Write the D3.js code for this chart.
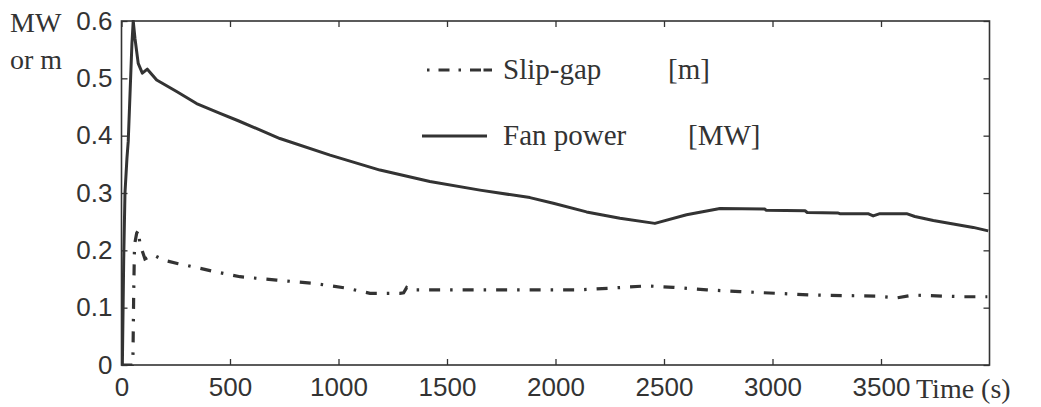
<!DOCTYPE html>
<html>
<head>
<meta charset="utf-8">
<script src="https://cdn.jsdelivr.net/npm/d3@7"></script>
<style>
  html, body { margin: 0; padding: 0; background: #fff; }
  svg { display: block; }
  .serif { font-family: "Liberation Serif", "DejaVu Serif", "Times New Roman", serif; }
  .sans { font-family: "Liberation Sans", Arial, sans-serif; }
</style>
</head>
<body>
<svg id="chart" width="1041" height="407"></svg>
<script>
// ---- data ----
const fanTime  = [0, 4, 10, 16, 25, 31, 40, 48, 54, 62, 77, 96, 119, 162, 254, 346, 454, 538, 730, 961, 1191, 1421, 1652, 1882, 1990, 2143, 2297, 2458, 2604, 2758, 2965, 2970, 3150, 3160, 3303, 3310, 3440, 3464, 3495, 3618, 3656, 3741, 3833, 3925, 3994];
const fanPower = [0, 0, 0.18, 0.30, 0.36, 0.39, 0.48, 0.56, 0.600, 0.57, 0.526, 0.509, 0.516, 0.497, 0.477, 0.456, 0.439, 0.426, 0.395, 0.366, 0.340, 0.320, 0.305, 0.292, 0.282, 0.267, 0.256, 0.247, 0.262, 0.273, 0.272, 0.270, 0.269, 0.266, 0.265, 0.264, 0.264, 0.260, 0.264, 0.264, 0.259, 0.252, 0.246, 0.240, 0.234];

const slipTime = [0, 50, 53, 56, 60, 70, 78, 86, 95, 108, 125, 147, 193, 270, 346, 416, 492, 546, 715, 884, 1038, 1145, 1283, 1300, 1314, 1330, 1483, 1667, 1900, 2100, 2251, 2420, 2543, 2697, 2850, 3019, 3188, 3342, 3480, 3572, 3649, 3879, 3990];
const slipGap  = [0, 0, 0.02, 0.12, 0.21, 0.23, 0.235, 0.207, 0.200, 0.185, 0.188, 0.192, 0.183, 0.176, 0.170, 0.164, 0.158, 0.154, 0.148, 0.1425, 0.134, 0.125, 0.125, 0.126, 0.135, 0.131, 0.131, 0.131, 0.131, 0.131, 0.134, 0.138, 0.1355, 0.131, 0.128, 0.125, 0.122, 0.121, 0.120, 0.117, 0.122, 0.119, 0.119];

const xTickValues = [0, 500, 1000, 1500, 2000, 2500, 3000, 3500];
const yTickValues = [0, 0.1, 0.2, 0.3, 0.4, 0.5, 0.6];
const xDomain = [0, 4000];
const yDomain = [0, 0.6];

const legendNames = ["Slip-gap", "Fan power"];
const legendUnits = ["[m]", "[MW]"];

// ---- layout ----
const L = 121.5, R = 989.5, T = 21, B = 365;
const ink = "#333";
const svg = d3.select("#chart");

const x = d3.scaleLinear().domain(xDomain).range([L, R]);
const y = d3.scaleLinear().domain(yDomain).range([B, T]);

svg.append("defs").append("clipPath").attr("id", "clip")
  .append("rect").attr("x", L).attr("y", T - 1).attr("width", R - L).attr("height", B - T + 2);

const tickLen = 6;
const gx = svg.append("g").attr("transform", `translate(0,${B})`)
  .call(d3.axisBottom(x).tickValues(xTickValues).tickSizeInner(-tickLen).tickSizeOuter(0).tickPadding(13).tickFormat(d3.format("d")));
const gxTop = svg.append("g").attr("transform", `translate(0,${T})`)
  .call(d3.axisTop(x).tickValues(xTickValues).tickSizeInner(-tickLen).tickSizeOuter(0).tickFormat(""));
const gy = svg.append("g").attr("transform", `translate(${L},0)`)
  .call(d3.axisLeft(y).tickValues(yTickValues).tickSizeInner(-tickLen).tickSizeOuter(0).tickPadding(9).tickFormat(d => d === 0 ? "0" : d3.format(".1f")(d)));
const gyR = svg.append("g").attr("transform", `translate(${R},0)`)
  .call(d3.axisRight(y).tickValues(yTickValues).tickSizeInner(-tickLen).tickSizeOuter(0).tickFormat(""));

[gx, gxTop, gy, gyR].forEach(g => {
  g.attr("font-family", null).attr("font-size", null);
  g.select(".domain").remove();
  g.selectAll(".tick line").attr("stroke", ink).attr("stroke-width", 1.3);
  g.selectAll(".tick text").attr("fill", ink).attr("class", "sans").style("font-size", "26px");
});
gx.selectAll(".tick text").attr("dy", "0.71em");

svg.append("rect").attr("x", L).attr("y", T).attr("width", R - L).attr("height", B - T)
  .attr("fill", "none").attr("stroke", ink).attr("stroke-width", 1.6);

const fanData = fanTime.map((t, i) => [t, fanPower[i]]);
const slipData = slipTime.map((t, i) => [t, slipGap[i]]);
const line = d3.line().x(d => x(d[0])).y(d => y(d[1]));

const plot = svg.append("g").attr("clip-path", "url(#clip)");
plot.append("path").datum(slipData).attr("d", line)
  .attr("fill", "none").attr("stroke", ink).attr("stroke-width", 3.2)
  .attr("stroke-dasharray", "11,10,2.5,10");
plot.append("path").datum(fanData).attr("d", line)
  .attr("fill", "none").attr("stroke", ink).attr("stroke-width", 3).attr("stroke-linejoin", "round");

// legend
const legY = [70, 136];
const leg = svg.append("g");
leg.append("line").attr("x1", 427).attr("x2", 492).attr("y1", legY[0]).attr("y2", legY[0])
  .attr("stroke", ink).attr("stroke-width", 3).attr("stroke-dasharray", "2.5,9,11,9,2.5,9,11");
leg.append("line").attr("x1", 422).attr("x2", 487).attr("y1", legY[1]).attr("y2", legY[1])
  .attr("stroke", ink).attr("stroke-width", 3);
const serifText = (tx, ty, s, size) => svg.append("text").attr("x", tx).attr("y", ty).text(s)
  .attr("class", "serif").style("font-size", size + "px").attr("fill", ink);
legendNames.forEach((n, i) => serifText(503, legY[i] + 9, n, 29));
serifText(668, legY[0] + 9, legendUnits[0], 29);
serifText(688, legY[1] + 9, legendUnits[1], 29);

// axis titles
serifText(10, 32, "MW", 28);
serifText(10, 69, "or m", 28);
serifText(916, 398, "Time (s)", 28);
</script>
</body>
</html>
